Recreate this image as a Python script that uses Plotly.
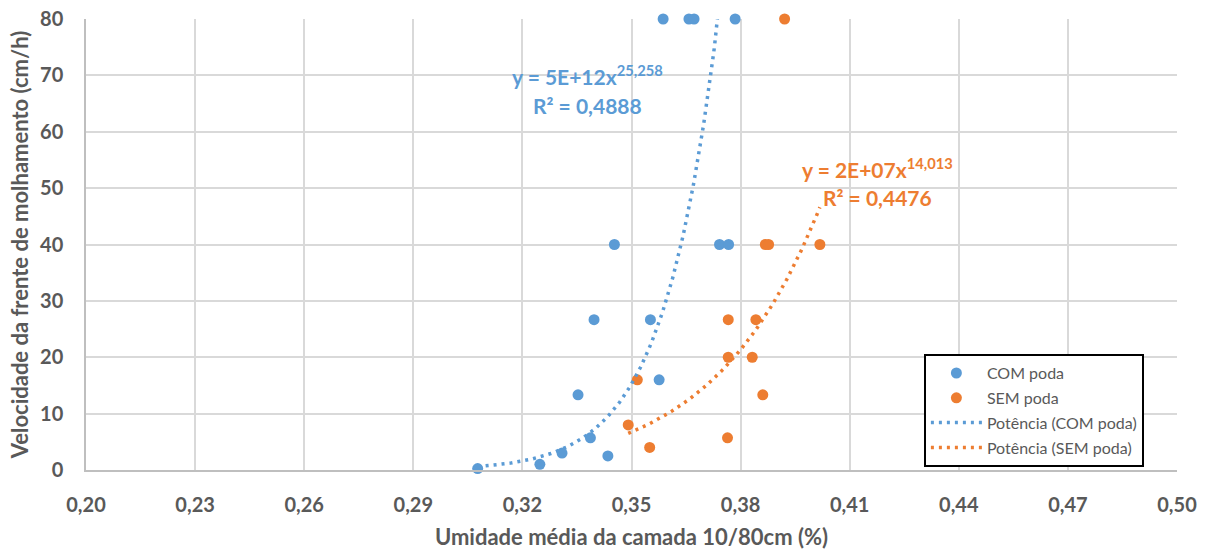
import plotly.graph_objects as go
import numpy as np

# ---- data ----
com_x = [0.3077, 0.3248, 0.3309, 0.3387, 0.3435, 0.3353, 0.3576, 0.3397, 0.3552,
         0.3453, 0.3742, 0.3767, 0.3587, 0.3658, 0.3672, 0.3785]
com_y = [0.25, 1.0, 3.0, 5.7, 2.5, 13.33, 16.0, 26.67, 26.67,
         40, 40, 40, 80, 80, 80, 80]

sem_x = [0.3516, 0.3491, 0.3550, 0.3868, 0.3877, 0.4018, 0.3766, 0.3842, 0.3766,
         0.3832, 0.3861, 0.3764, 0.3921]
sem_y = [16.0, 8.0, 4.0, 40, 40, 40, 26.67, 26.67, 20, 20, 13.33, 5.7, 80]

# power trendline coefficients (y = a * x^b)
com_a, com_b = 5e12, 25.258
sem_a, sem_b = 1.65e7, 14.013

x_ticks = [0.20, 0.23, 0.26, 0.29, 0.32, 0.35, 0.38, 0.41, 0.44, 0.47, 0.50]
y_ticks = [0, 10, 20, 30, 40, 50, 60, 70, 80]

BLUE = "#5B9BD5"
ORANGE = "#ED7D31"
GREY = "#595959"
FONT = "Lato"

com_tx = np.linspace(min(com_x), max(com_x), 300)
com_ty = com_a * com_tx ** com_b
sem_tx = np.linspace(min(sem_x), max(sem_x), 300)
sem_ty = sem_a * sem_tx ** sem_b

fig = go.Figure()
fig.add_trace(go.Scatter(x=com_x, y=com_y, mode="markers", name="COM poda",
                         legendgroup="a", cliponaxis=False,
                         marker=dict(color=BLUE, size=11)))
fig.add_trace(go.Scatter(x=sem_x, y=sem_y, mode="markers", name="SEM poda",
                         legendgroup="b", cliponaxis=False,
                         marker=dict(color=ORANGE, size=11)))
fig.add_trace(go.Scatter(x=com_tx, y=com_ty, mode="lines", name="Potência (COM poda)",
                         legendgroup="c",
                         line=dict(color=BLUE, width=3.5, dash="3px,5px")))
fig.add_trace(go.Scatter(x=sem_tx, y=sem_ty, mode="lines", name="Potência (SEM poda)",
                         legendgroup="d",
                         line=dict(color=ORANGE, width=3.5, dash="3px,5px")))

fig.update_layout(
    width=1212, height=554,
    margin=dict(l=86, r=35, t=19, b=84, autoexpand=False),
    paper_bgcolor="white", plot_bgcolor="white",
    separators=",.",
    font=dict(family=FONT, color=GREY),
    showlegend=True,
    legend=dict(x=0.768, y=0.257, xanchor="left", yanchor="top",
                bordercolor="black", borderwidth=2, bgcolor="white",
                font=dict(size=16, color=GREY, family=FONT),
                tracegroupgap=1, itemwidth=51),
    xaxis=dict(range=[0.2, 0.5], tickvals=x_ticks, tickformat=".2f",
               showgrid=True, gridcolor="#D9D9D9", gridwidth=1.5,
               showline=True, linecolor="#BFBFBF", linewidth=1.5,
               zeroline=False, ticks="", ticklabelstandoff=16,
               tickfont=dict(size=20, color=GREY, family=FONT, weight="bold"),
               title=dict(text="Umidade média da camada 10/80cm (%)",
                          font=dict(size=22, color=GREY, family=FONT, weight="bold"),
                          standoff=15)),
    yaxis=dict(range=[0, 80], tickvals=y_ticks,
               showgrid=True, gridcolor="#D9D9D9", gridwidth=1.5,
               showline=True, linecolor="#BFBFBF", linewidth=1.5,
               zeroline=False, ticks="", ticklabelstandoff=17,
               tickfont=dict(size=20, color=GREY, family=FONT, weight="bold"),
               title=dict(text="Velocidade da frente de molhamento (cm/h)",
                          font=dict(size=22, color=GREY, family=FONT, weight="bold"),
                          standoff=5)),
)

fig.add_annotation(x=0.3379, y=70.0, xref="x", yref="y", showarrow=False,
                   text="y = 5E+12x<sup>25,258</sup>",
                   font=dict(size=21, color=BLUE, family=FONT, weight="bold"))
fig.add_annotation(x=0.3379, y=64.7, xref="x", yref="y", showarrow=False,
                   text="R² = 0,4888",
                   font=dict(size=21, color=BLUE, family=FONT, weight="bold"))
fig.add_annotation(x=0.4177, y=53.5, xref="x", yref="y", showarrow=False,
                   text="y = 2E+07x<sup>14,013</sup>",
                   font=dict(size=21, color=ORANGE, family=FONT, weight="bold"))
fig.add_annotation(x=0.4177, y=48.4, xref="x", yref="y", showarrow=False,
                   text="R² = 0,4476",
                   font=dict(size=21, color=ORANGE, family=FONT, weight="bold"))

fig.write_html("out.html", config={"displayModeBar": False},
               post_script="document.body.style.margin='0';")
